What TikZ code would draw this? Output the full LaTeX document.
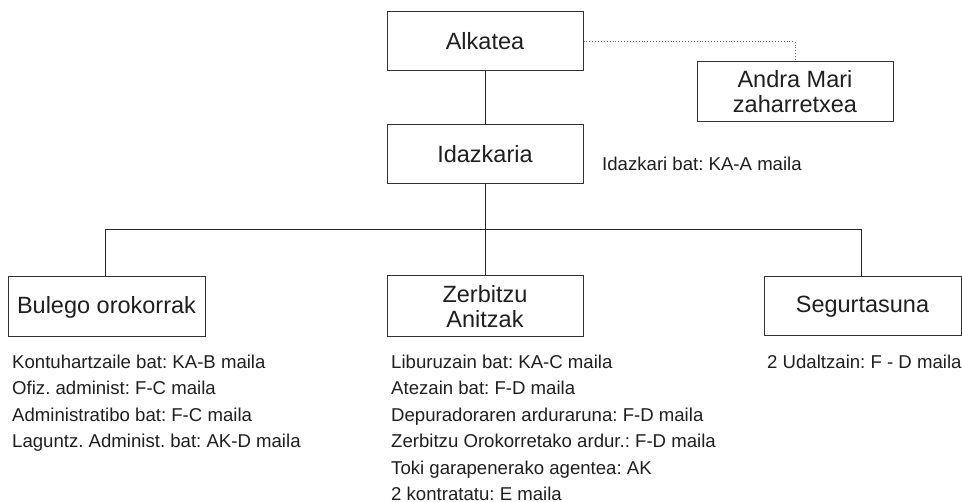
\documentclass[tikz,border=0pt]{standalone}
\usepackage{fontspec}
\setmainfont{Liberation Sans}
\frenchspacing
\begin{document}
\begin{tikzpicture}[x=1pt,y=-1pt,
  box/.style={draw=black!80, line width=1pt, minimum width=196pt, minimum height=59pt, inner sep=0pt, align=center, font=\fontsize{23.5}{25}\selectfont\frenchspacing, text=black!88},
  listline/.style={anchor=base west, inner sep=0pt, font=\fontsize{18.6}{22}\selectfont\frenchspacing, text=black!88},
  conn/.style={draw=black!85, line width=0.9pt},
  dots/.style={draw=black!60, line width=0.9pt, dotted}]
\useasboundingbox (0,0) rectangle (962,502);
\node[box] (alk) at (485,41.5) {Alkatea};
\node[box] (ida) at (485,154.5) {Idazkaria};
\node[box, minimum height=60pt] (andra) at (795,92) {Andra Mari\\zaharretxea};
\node[box, minimum width=197pt, minimum height=60pt] (bul) at (106.5,307) {Bulego orokorrak};
\node[box, minimum height=61pt] (zer) at (485,306.5) {Zerbitzu\\Anitzak};
\node[box, minimum width=197pt] (seg) at (862.5,306.5) {Segurtasuna};
\node[listline] (idt) at (602,171) {Idazkari bat: KA-A maila};
\coordinate (hl) at (105,229.5);
\coordinate (hr) at (861,229.5);
\coordinate (hm) at (485,229.5);
\coordinate (dc) at (795,41.5);
\draw[conn] (alk.south) -- (ida.north);
\draw[conn] (ida.south) -- (hm);
\draw[conn] (bul.north -| hl) -- (hl) -- (hr) -- (seg.north -| hr);
\draw[conn] (hm) -- (zer.north);
\draw[dots] (alk.east) -- (dc) -- (andra.north);
% left list
\node[listline] (l1) at (12,368.5) {Kontuhartzaile bat: KA-B maila};
\node[listline] (l2) at (12,395) {Ofiz. administ: F-C maila};
\node[listline] (l3) at (12,421.5) {Administratibo bat: F-C maila};
\node[listline] (l4) at (12,448) {Laguntz. Administ. bat: AK-D maila};
% middle list
\node[listline] (m1) at (391,368.5) {Liburuzain bat: KA-C maila};
\node[listline] (m2) at (391,395) {Atezain bat: F-D maila};
\node[listline] (m3) at (391,421.5) {Depuradoraren arduraruna: F-D maila};
\node[listline] (m4) at (391,448) {Zerbitzu Orokorretako ardur.: F-D maila};
\node[listline] (m5) at (391,474.5) {Toki garapenerako agentea: AK};
\node[listline] (m6) at (391,500.5) {2 kontratatu: E maila};
% right list
\node[listline] (r1) at (767,368.5) {2 Udaltzain: F - D maila};
\end{tikzpicture}
\end{document}
